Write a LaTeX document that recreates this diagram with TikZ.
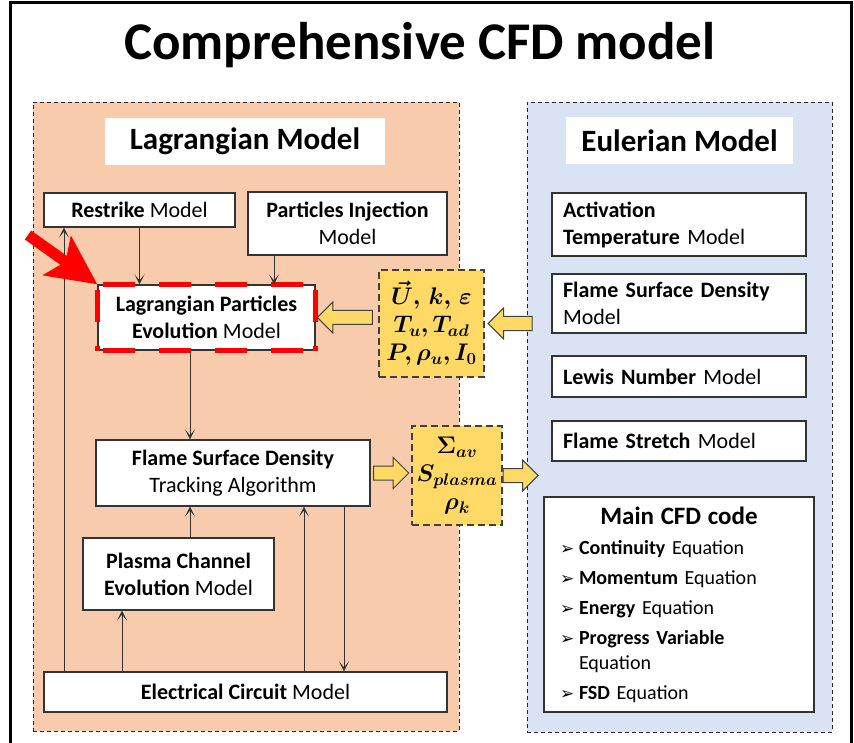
\RequirePackage{fix-cm}
\documentclass[tikz,border=0pt]{standalone}
\usepackage{fontspec}
\setmainfont{Carlito}
\newfontfamily\dejavu{DejaVu Sans}
\usepackage{bm}
\usetikzlibrary{arrows.meta,shapes.arrows}
\definecolor{lagfill}{HTML}{F8CBAD}
\definecolor{eulfill}{HTML}{DAE3F3}
\definecolor{varfill}{HTML}{FFD966}
\definecolor{edge}{HTML}{404040}
\newcommand\itm[1]{\makebox[19pt][l]{\dejavu\fontsize{17}{20}\selectfont ➢}#1}
\tikzset{
  box/.style={draw=black!80, line width=1.2pt, fill=white, align=center, inner sep=0pt,
    font=\fontsize{22}{27}\selectfont},
  ebox/.style={box, align=left, text width=232pt, inner xsep=11pt, minimum width=254pt},
  panel/.style={draw=black!85, line width=0.9pt, dash pattern=on 4pt off 3pt, inner sep=0pt},
  ptitle/.style={fill=white, inner sep=0pt, font=\fontsize{31}{36}\selectfont\bfseries},
  varbox/.style={draw=edge, line width=1.1pt, dash pattern=on 7pt off 4pt, fill=varfill,
    align=center, inner sep=0pt, font=\fontsize{24}{28}\selectfont},
  barrow/.style={single arrow, draw=edge, line width=1pt, fill=varfill, inner xsep=0pt,
    inner ysep=6.5pt, single arrow head extend=8.5pt},
  link/.style={draw=black!80, line width=0.9pt, -{Stealth[length=10pt,width=10pt,inset=6pt]}},
}
\begin{document}
\begin{tikzpicture}[x=1pt,y=-1pt]
\useasboundingbox (0,0) rectangle (854,743);
% frame and title
\draw[line width=3pt] (10,3) rectangle (851,780);
\node[font=\fontsize{53}{60}\selectfont\bfseries] (title) at (420,45) {Comprehensive CFD model};
% the two sub-models
\node[panel, fill=lagfill, minimum width=426pt, minimum height=629pt] (lagpanel) at (246,416.5) {};
\node[panel, fill=eulfill, minimum width=305pt, minimum height=630pt] (eulpanel) at (679.5,417) {};
\node[ptitle, minimum width=280pt, minimum height=47pt] (lagtitle) at (245,141.5) {Lagrangian Model};
\node[ptitle, minimum width=227pt, minimum height=47pt] (eultitle) at (679.5,140.5) {Eulerian Model};

% Lagrangian side
\node[box, minimum width=191pt, minimum height=34pt] (restrike) at (139.5,210) {\textbf{Restrike} Model};
\node[box, minimum width=199pt, minimum height=63pt] (inject) at (347.5,223.5) {\textbf{Particles Injection}\\Model};
\node[box, minimum width=217pt, minimum height=65pt] (lpe) at (206.5,317.5) {\textbf{Lagrangian Particles}\\\textbf{Evolution} Model};
\draw[red, line width=5pt, dash pattern=on 32pt off 24pt, dash phase=50pt]
  (lpe.north west) -- (lpe.north east) (lpe.south west) -- (lpe.south east)
  (lpe.north west) -- (lpe.south west) (lpe.north east) -- (lpe.south east);
\node[box, minimum width=274pt, minimum height=66pt] (fsdt) at (233,473) {\textbf{Flame Surface Density}\\Tracking Algorithm};
\node[box, minimum width=191pt, minimum height=72pt] (plasma) at (178.5,574) {\textbf{Plasma Channel}\\\textbf{Evolution} Model};
\node[box, minimum width=403pt, minimum height=40pt] (circuit) at (245.5,692) {\textbf{Electrical Circuit} Model};

\draw[link] (restrike.south) -- (lpe.north -| restrike.south);
\draw[link] (inject.south -| 274,0) -- (lpe.north -| 274,0);
\draw[link] (lpe.south -| 190,0) -- (fsdt.north -| 190,0);
\draw[link] (plasma.north -| 190,0) -- (fsdt.south -| 190,0);
\draw[link] (circuit.north -| 122,0) -- (plasma.south -| 122,0);
\draw[link] (circuit.north -| 64,0) -- (restrike.south -| 64,0);
\draw[link] (circuit.north -| 304,0) -- (fsdt.south -| 304,0);
\draw[link] (fsdt.south -| 344,0) -- (circuit.north -| 344,0);

% red pointer
\coordinate (redtail) at (28,235);
\draw[red, line width=11pt, -{Stealth[length=49pt,width=47pt,inset=10pt]}] (redtail) -- (lpe.north west);

% exchanged quantities
\node[varbox, minimum width=105pt, minimum height=107pt] (vars) at (431.5,323.5)
  {$\bm{\vec{U},\,k,\,\varepsilon}$\\$\bm{T_u,T_{ad}}$\\$\bm{P,\rho_u,I_0}$};
\node[varbox, minimum width=90pt, minimum height=99pt] (outs) at (457,475.5)
  {$\bm{\Sigma_{av}}$\\$\bm{S_{plasma}}$\\$\bm{\rho_k}$};
\node[barrow, minimum height=44pt, shape border rotate=180, anchor=tail, xshift=6pt] (inarrow) at (eulpanel.west |- vars.east) {};
\node[barrow, minimum height=55pt, shape border rotate=180, anchor=tip, xshift=1pt] (lpearrow) at (lpe.east) {};
\node[barrow, minimum height=35pt, anchor=tip, xshift=-2pt] (outarrow) at (outs.west |- fsdt.east) {};
\node[barrow, minimum height=35pt, anchor=tail] (eularrow) at (outs.east) {};

% Eulerian side
\node[ebox, minimum height=63pt] (act) at (679,224.5) {\textbf{Activation}\\\textbf{Temperature} Model};
\node[ebox, minimum height=59pt] (fsdm) at (679,303.5) {\textbf{Flame Surface Density}\\Model};
\node[ebox, minimum height=41pt] (lewis) at (679,376.5) {\textbf{Lewis Number} Model};
\node[ebox, minimum height=40pt] (stretch) at (679,441) {\textbf{Flame Stretch} Model};
\node[box, align=left, text width=238pt, inner xsep=16pt, minimum width=270pt, minimum height=215pt,
  font=\fontsize{20}{25}\selectfont] (cfd) at (679,604.5)
  {{\centering\fontsize{25}{30}\selectfont\bfseries Main CFD code\par}\vspace{5pt}
   \itm{\textbf{Continuity} Equation}\\[5pt]
   \itm{\textbf{Momentum} Equation}\\[5pt]
   \itm{\textbf{Energy} Equation}\\[5pt]
   \itm{\textbf{Progress Variable}}\\
   \hspace*{19pt}Equation\\[5pt]
   \itm{\textbf{FSD} Equation}};
\end{tikzpicture}
\end{document}
